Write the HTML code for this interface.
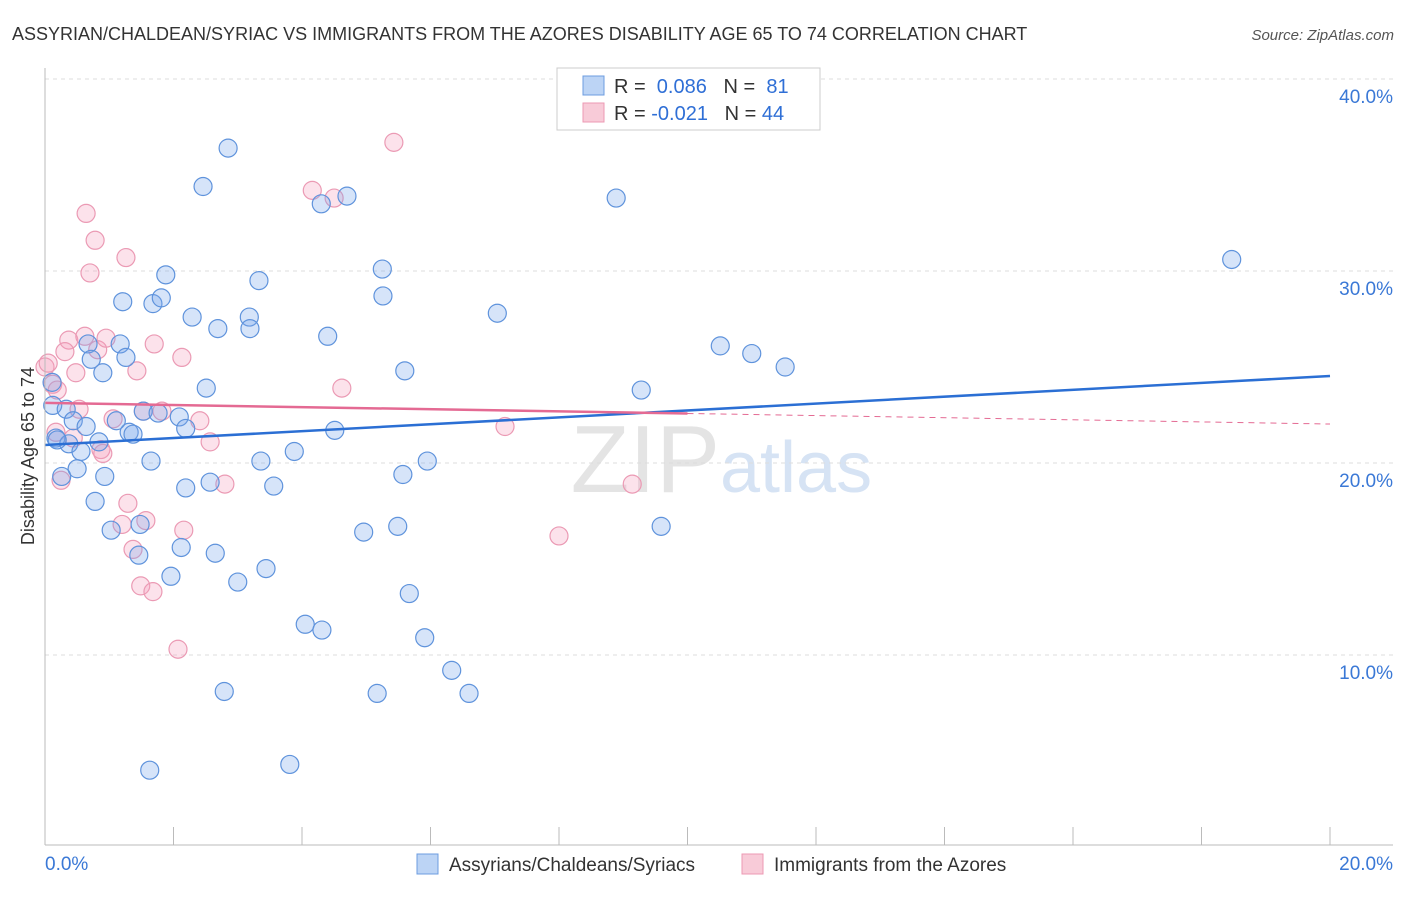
<!DOCTYPE html>
<html><head><meta charset="utf-8"><style>
body{margin:0;background:#fff;font-family:"Liberation Sans",sans-serif;}
svg text{font-family:"Liberation Sans",sans-serif;}
</style></head><body>
<svg id="c" width="1406" height="892">
<text x="12" y="40" font-size="18" fill="#333">ASSYRIAN/CHALDEAN/SYRIAC VS IMMIGRANTS FROM THE AZORES DISABILITY AGE 65 TO 74 CORRELATION CHART</text>
<text x="1394" y="40" font-size="15" fill="#555" text-anchor="end" font-style="italic">Source: ZipAtlas.com</text>
<text x="34" y="456" font-size="18" fill="#333" text-anchor="middle" transform="rotate(-90 34 456)">Disability Age 65 to 74</text>
<text x="720" y="492" font-size="96" fill="#e4e4e4" text-anchor="end" font-family="Liberation Serif">ZIP</text>
<text x="720" y="492" font-size="72" fill="#d6e3f4">atlas</text>
<g id="grid"></g><g id="marks"></g><g id="axes"></g>
<g>
<rect x="557" y="68" width="263" height="62" fill="#fff" stroke="#ccc"/>
<rect x="583" y="76" width="21" height="19" fill="#bcd4f5" stroke="#6c9ce0"/>
<text x="614" y="93" font-size="20" fill="#333">R = <tspan fill="#2f6fd6">&#160;0.086</tspan>&#160;&#160;&#160;N = <tspan fill="#2f6fd6">&#160;81</tspan></text>
<rect x="583" y="103" width="21" height="19" fill="#f8cbd8" stroke="#ec9ab3"/>
<text x="614" y="120" font-size="20" fill="#333">R = <tspan fill="#2f6fd6">-0.021</tspan>&#160;&#160;&#160;N = <tspan fill="#2f6fd6">44</tspan></text>
</g>
<g>
<rect x="417" y="854" width="21" height="20" fill="#bcd4f5" stroke="#6c9ce0"/>
<text x="449" y="871" font-size="19" fill="#333">Assyrians/Chaldeans/Syriacs</text>
<rect x="742" y="854" width="21" height="20" fill="#f8cbd8" stroke="#ec9ab3"/>
<text x="774" y="871" font-size="19" fill="#333">Immigrants from the Azores</text>
</g>
</svg>
<script>
const blueX=[2.85,2.46,4.30,4.70,8.89,18.47,1.88,5.25,3.33,1.21,1.68,1.81,5.26,2.29,2.69,3.18,3.19,7.04,4.40,1.17,0.67,0.72,1.26,0.90,5.60,10.51,11.00,11.52,2.51,9.28,0.11,0.12,0.33,0.44,0.64,1.11,1.53,1.76,2.09,2.19,1.31,1.37,4.51,0.17,0.37,0.19,0.84,0.56,3.88,1.65,3.36,5.95,0.50,0.93,5.57,2.19,2.57,3.56,0.26,0.78,1.03,1.48,4.96,5.49,9.59,2.12,2.65,1.46,1.96,3.00,3.44,5.67,4.05,4.31,5.91,6.33,2.79,5.17,6.60,1.63,3.81];
const blueY=[36.4,34.4,33.5,33.9,33.8,30.6,29.8,30.1,29.5,28.4,28.3,28.6,28.7,27.6,27.0,27.6,27.0,27.8,26.6,26.2,26.2,25.4,25.5,24.7,24.8,26.1,25.7,25.0,23.9,23.8,24.2,23.0,22.8,22.2,21.9,22.2,22.7,22.6,22.4,21.8,21.6,21.5,21.7,21.3,21.0,21.2,21.1,20.6,20.6,20.1,20.1,20.1,19.7,19.3,19.4,18.7,19.0,18.8,19.3,18.0,16.5,16.8,16.4,16.7,16.7,15.6,15.3,15.2,14.1,13.8,14.5,13.2,11.6,11.3,10.9,9.2,8.1,8.0,8.0,4.0,4.3];
const pinkX=[5.43,4.16,4.50,0.64,0.78,0.70,1.26,0.37,0.62,0.31,0.82,0.95,1.70,2.13,0.48,1.43,0,0.12,0.19,4.62,0.53,1.06,1.53,1.82,2.41,0.17,0.44,2.57,0.87,0.90,0.25,2.80,9.14,7.16,1.29,1.20,1.57,2.16,1.37,1.49,1.68,8.00,2.07,0.05];
const pinkY=[36.7,34.2,33.8,33.0,31.6,29.9,30.7,26.4,26.6,25.8,25.9,26.5,26.2,25.5,24.7,24.8,25.0,24.1,23.8,23.9,22.8,22.3,22.7,22.7,22.2,21.6,21.3,21.1,20.7,20.5,19.1,18.9,18.9,21.9,17.9,16.8,17.0,16.5,15.5,13.6,13.3,16.2,10.3,25.2];
const yTicks=[10,20,30,40];
const blueTrend=[20.94,24.53]; // y at x=0 and x=20
const pinkTrend=[23.13,22.03];
const NS="http://www.w3.org/2000/svg";
const X=v=>45+v/20*1285, Y=v=>847-v*19.2;
function mk(p,t,a){const e=document.createElementNS(NS,t);for(const k in a)e.setAttribute(k,a[k]);p.appendChild(e);return e;}
const grid=document.getElementById('grid'),marks=document.getElementById('marks'),axes=document.getElementById('axes');
yTicks.forEach(t=>{
 const l=mk(grid,'line',{x1:45,x2:1393,y1:Y(t),y2:Y(t),stroke:'#ddd','stroke-dasharray':'4,4'});
 
 
 const tx=mk(grid,'text',{x:1393,y:Y(t)+24,'font-size':19,fill:'#3a78d6','text-anchor':'end'});
 tx.textContent=t.toFixed(1)+'%';
 
 
});
const ya=mk(axes,'line',{x1:45,x2:45,y1:68,y2:845,stroke:'#bbb'});


const xa=mk(axes,'line',{x1:45,x2:1393,y1:845,y2:845,stroke:'#bbb'});


for(let i=1;i<=10;i++){const t=mk(axes,'line',{x1:X(i*2),x2:X(i*2),y1:827,y2:845,stroke:'#bbb'});
 
 }
[[0,'0.0%','start',45],[20,'20.0%','end',1393]].forEach(d=>{const t=mk(axes,'text',{x:d[3],y:870,'font-size':19,fill:'#3a78d6','text-anchor':d[2]});t.textContent=d[1];
 
 });
function dots(xs,ys,fill,stroke,name){xs.forEach((x,i)=>{const c=mk(marks,'circle',{cx:X(x),cy:Y(ys[i]),r:9,fill:fill,stroke:stroke,'stroke-width':1.2});
 
 });}
dots(pinkX,pinkY,'rgba(244,160,188,0.3)','#eb9ab4','azores-point');
dots(blueX,blueY,'rgba(120,165,235,0.3)','#5f93dc','assyrian-point');
const bl=mk(marks,'line',{x1:X(0),y1:Y(blueTrend[0]),x2:X(20),y2:Y(blueTrend[1]),stroke:'#2b6fd4','stroke-width':2.5});


const pm=10, pyAt=x=>pinkTrend[0]+(pinkTrend[1]-pinkTrend[0])*x/20;
const pl=mk(marks,'line',{x1:X(0),y1:Y(pyAt(0)),x2:X(pm),y2:Y(pyAt(pm)),stroke:'#e46a93','stroke-width':2.5});


const pd=mk(marks,'line',{x1:X(pm),y1:Y(pyAt(pm)),x2:X(20),y2:Y(pyAt(20)),stroke:'#e46a93','stroke-width':1,'stroke-dasharray':'6,5'});


</script>
</body></html>
